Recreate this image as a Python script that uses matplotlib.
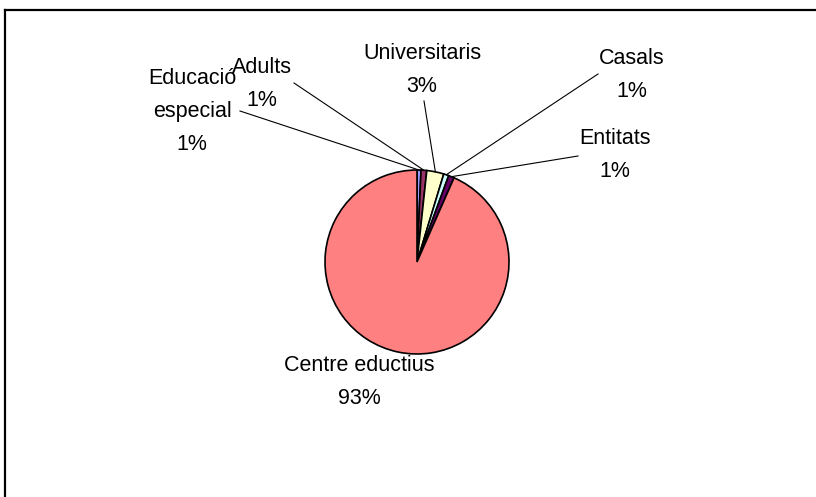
import numpy as np
import matplotlib.pyplot as plt

# data
labels = ["Educació\nespecial", "Adults", "Universitaris", "Casals", "Entitats", "Centre eductius"]
values = [0.7, 1.0, 3.0, 0.9, 1.0, 93.4]
colors = ["#9999FF", "#993366", "#FFFFCC", "#CCFFFF", "#660066", "#FF8080"]

# label positions in figure pixels (x, y from top), None = no leader line
label_pos = [(192, 112), (262, 84), (422, 70), (632, 75), (615, 155), (359, 382)]
line_start = [(240, 111), (294, 83), (424, 101), (598, 74), (578, 156), None]

W, H = 816, 497
cx, cy, r = 417, 262, 92

fig = plt.figure(figsize=(W / 100, H / 100), dpi=100)
ax = fig.add_axes([0, 0, 1, 1])

wedges, _ = ax.pie(values, colors=colors, startangle=90, counterclock=False,
                   center=(cx, H - cy), radius=r, frame=True,
                   wedgeprops=dict(edgecolor="black", linewidth=1.2))

ax.set_xlim(0, W)
ax.set_ylim(0, H)
ax.set_aspect("equal")
ax.axis("off")

total = sum(values)
pct = [round(v / total * 100) for v in values]

for w, lab, p, pos, ls in zip(wedges, labels, pct, label_pos, line_start):
    ax.text(pos[0], H - pos[1], f"{lab}\n{p}%", ha="center", va="center",
            fontsize=15.5, family="Liberation Sans", linespacing=1.75)
    if ls is not None:
        mid = np.deg2rad((w.theta1 + w.theta2) / 2)
        ex = cx + r * np.cos(mid)
        ey = (H - cy) + r * np.sin(mid)
        ax.plot([ls[0], ex], [H - ls[1], ey], color="black", linewidth=0.8)

# chart area border (top and left visible)
ax.plot([5, W], [H - 10, H - 10], color="black", linewidth=1.6, clip_on=False)
ax.plot([5, 5], [0, H - 10], color="black", linewidth=1.6, clip_on=False)

fig.savefig("out.png", dpi=100)
